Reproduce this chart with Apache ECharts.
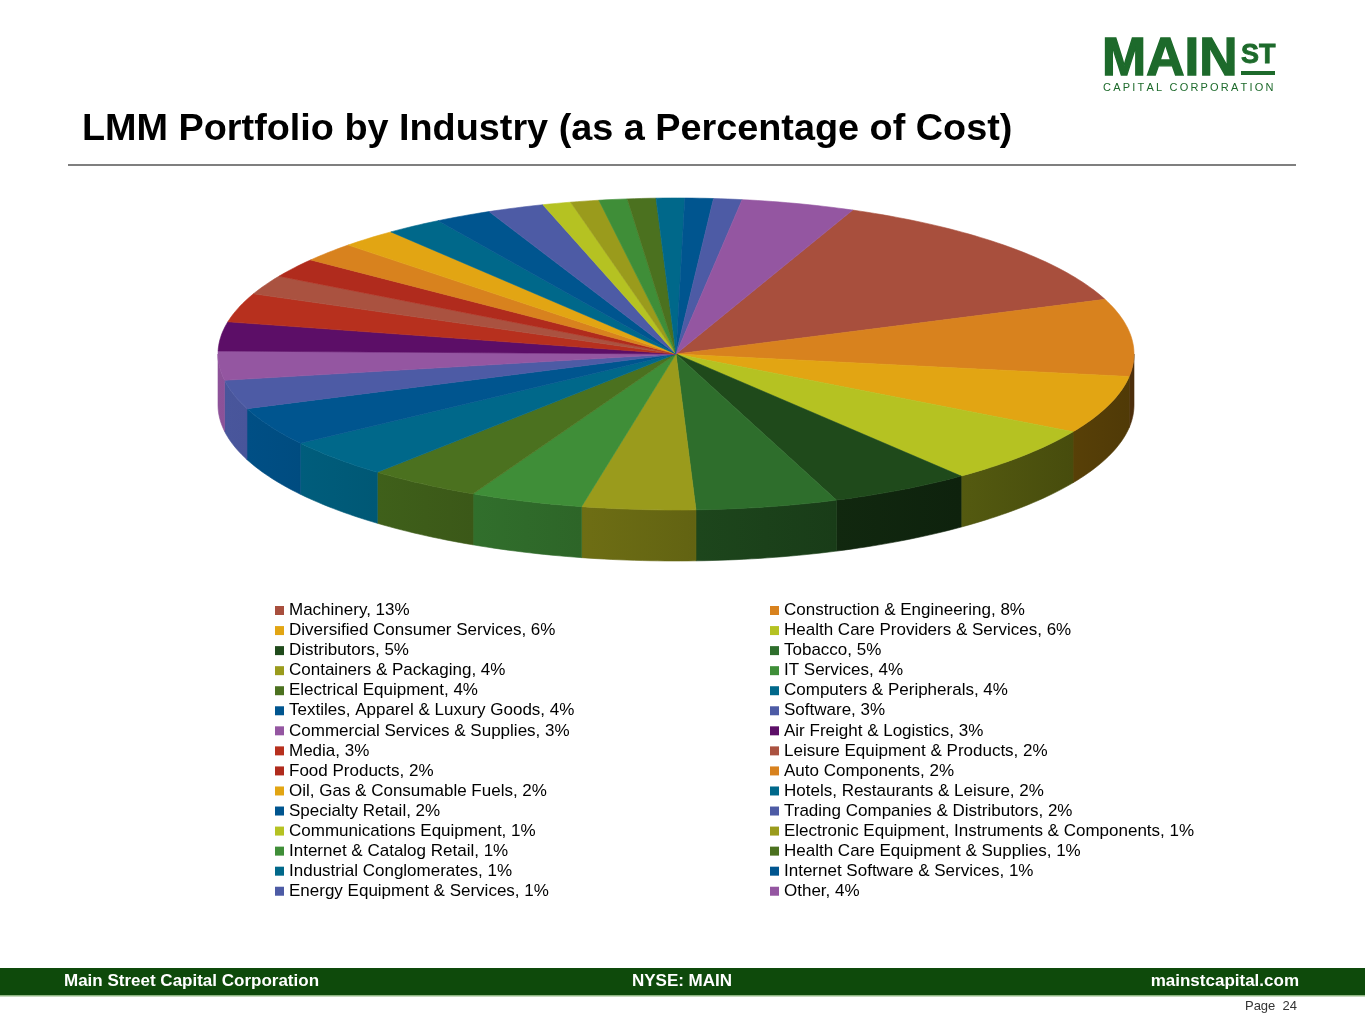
<!DOCTYPE html>
<html>
<head>
<meta charset="utf-8">
<title>LMM Portfolio by Industry</title>
<script src="https://cdn.jsdelivr.net/npm/echarts@6/dist/echarts.min.js"></script>
<style>
html, body { margin: 0; padding: 0; background: #fff; }
#main { width: 1365px; height: 1024px; }
</style>
</head>
<body>
<div id="main"></div>
<script>
// industries in slice order (clockwise from the top), percentage of cost
var industries = [
    'Machinery', 'Construction & Engineering',
    'Diversified Consumer Services', 'Health Care Providers & Services',
    'Distributors', 'Tobacco',
    'Containers & Packaging', 'IT Services',
    'Electrical Equipment', 'Computers & Peripherals',
    'Textiles, Apparel & Luxury Goods', 'Software',
    'Commercial Services & Supplies', 'Air Freight & Logistics',
    'Media', 'Leisure Equipment & Products',
    'Food Products', 'Auto Components',
    'Oil, Gas & Consumable Fuels', 'Hotels, Restaurants & Leisure',
    'Specialty Retail', 'Trading Companies & Distributors',
    'Communications Equipment', 'Electronic Equipment, Instruments & Components',
    'Internet & Catalog Retail', 'Health Care Equipment & Supplies',
    'Industrial Conglomerates', 'Internet Software & Services',
    'Energy Equipment & Services', 'Other'
];
var costShare = [
    13, 8, 6, 6, 5, 5, 4, 4, 4, 4,
    4, 3, 3, 3, 3, 2, 2, 2, 2, 2,
    2, 2, 1, 1, 1, 1, 1, 1, 1, 4
];
var sliceColors = [
    '#A84F3D', '#D8821E', '#E2A513', '#B5C222', '#1F4A1B',
    '#2E6E2C', '#9A9B1C', '#3F8E38', '#4B711F', '#00688A',
    '#00558F', '#4D5BA5', '#9456A1', '#5C0E67', '#B7301E',
    '#AA5240', '#B02B1D', '#D8821E', '#E2A513', '#00688A',
    '#00558F', '#4D5BA5', '#B5C222', '#9A9B1C', '#3F8E38',
    '#4B711F', '#00688A', '#00558F', '#4D5BA5', '#9456A1'
];

var chart = echarts.init(document.getElementById('main'));

// tilted pie geometry
var cx = 676, cy = 354, rx = 458, ry = 156, depth = 51;
var startAngle = 67.3;

var total = costShare.reduce(function (s, v) { return s + v; }, 0);
var sliceAngles = [];
var acc = startAngle;
costShare.forEach(function (v) {
    var a0 = acc;
    acc -= v / total * 360;
    sliceAngles.push([a0, acc]);
});

function rim(t, dz) {
    var r = t * Math.PI / 180;
    return [cx + rx * Math.cos(r), cy - ry * Math.sin(r) + dz];
}

function shade(hex, k) {
    var n = parseInt(hex.slice(1), 16);
    var r = Math.round(((n >> 16) & 255) * k);
    var g = Math.round(((n >> 8) & 255) * k);
    var b = Math.round((n & 255) * k);
    return 'rgb(' + r + ',' + g + ',' + b + ')';
}

// side is lit from the left
function light(t) {
    return 0.65 - 0.3 * Math.cos(t * Math.PI / 180);
}

function renderSlice(params, api) {
    var i = params.dataIndex;
    var a0 = sliceAngles[i][0], a1 = sliceAngles[i][1];
    var color = sliceColors[i];
    var children = [];

    // outer wall, only the front half shows
    var s0 = Math.min(a0, 0), s1 = Math.max(a1, -180);
    if (s0 > s1) {
        var side = [];
        var n = Math.max(2, Math.ceil(s0 - s1));
        var k;
        for (k = 0; k <= n; k++) side.push(rim(s0 - (s0 - s1) * k / n, 0));
        for (k = n; k >= 0; k--) side.push(rim(s0 - (s0 - s1) * k / n, depth));
        children.push({
            type: 'polygon',
            shape: { points: side },
            style: {
                fill: new echarts.graphic.LinearGradient(0, 0, 1, 0, [
                    { offset: 0, color: shade(color, light(s1)) },
                    { offset: 1, color: shade(color, light(s0)) }
                ]),
                stroke: shade(color, light((s0 + s1) / 2)),
                lineWidth: 0.6
            }
        });
    }

    // top face
    var top = [[cx, cy]];
    var m = Math.max(2, Math.ceil(a0 - a1));
    for (var j = 0; j <= m; j++) top.push(rim(a0 - (a0 - a1) * j / m, 0));
    children.push({
        type: 'polygon',
        shape: { points: top },
        style: { fill: color, stroke: color, lineWidth: 0.6 }
    });

    return { type: 'group', children: children };
}

var valueByName = {};
industries.forEach(function (n, i) { valueByName[n] = costShare[i]; });

var legendBase = {
    orient: 'vertical',
    top: 600.5,
    padding: 0,
    itemGap: 0,
    itemWidth: 9,
    itemHeight: 9,
    icon: 'rect',
    selectedMode: false,
    textStyle: {
        fontFamily: '"Liberation Sans", Arial, sans-serif',
        fontSize: 17,
        lineHeight: 20.05,
        color: '#000'
    },
    formatter: function (name) {
        return name + ', ' + valueByName[name] + '%';
    }
};

var uiFont = '"Liberation Sans", Arial, sans-serif';

option = {
    animation: false,
    legend: [
        Object.assign({}, legendBase, {
            left: 275,
            data: industries.filter(function (n, i) { return i % 2 === 0; })
        }),
        Object.assign({}, legendBase, {
            left: 770,
            data: industries.filter(function (n, i) { return i % 2 === 1; })
        })
    ],
    graphic: [
        {
            type: 'text', x: 82, y: 130,
            style: {
                text: 'LMM Portfolio by Industry (as a Percentage of Cost)',
                font: 'bold 37.8px ' + uiFont, fill: '#000',
                verticalAlign: 'middle', textVerticalAlign: 'middle'
            }
        },
        {
            type: 'rect',
            shape: { x: 68, y: 164, width: 1228, height: 2 },
            style: { fill: '#7f7f7f' }
        },
        // logo
        {
            type: 'text', x: 1102, y: 60,
            style: {
                text: 'MAIN', font: 'bold 53px ' + uiFont,
                fill: '#1d6a2b', stroke: '#1d6a2b', lineWidth: 1.4,
                verticalAlign: 'middle', textVerticalAlign: 'middle'
            }
        },
        {
            type: 'text', x: 1241, y: 56,
            style: {
                text: 'ST', font: 'bold 27px ' + uiFont,
                fill: '#1d6a2b', stroke: '#1d6a2b', lineWidth: 0.8,
                verticalAlign: 'middle', textVerticalAlign: 'middle'
            }
        },
        {
            type: 'rect',
            shape: { x: 1241, y: 71, width: 34, height: 4 },
            style: { fill: '#1d6a2b' }
        },
        {
            type: 'text', x: 1103, y: 88,
            style: {
                text: 'C\u2009A\u2009P\u2009I\u2009T\u2009A\u2009L\u2009 \u2009C\u2009O\u2009R\u2009P\u2009O\u2009R\u2009A\u2009T\u2009I\u2009O\u2009N',
                font: '11px ' + uiFont, fill: '#1d6a2b',
                verticalAlign: 'middle', textVerticalAlign: 'middle'
            }
        },
        // footer
        {
            type: 'rect',
            shape: { x: 0, y: 968, width: 1365, height: 27 },
            style: { fill: '#0e4a0b' }
        },
        {
            type: 'rect',
            shape: { x: 0, y: 995, width: 1365, height: 1.5 },
            style: { fill: '#8fb583' }
        },
        {
            type: 'text', x: 64, y: 981,
            style: {
                text: 'Main Street Capital Corporation', font: 'bold 17px ' + uiFont,
                fill: '#fff', verticalAlign: 'middle', textVerticalAlign: 'middle'
            }
        },
        {
            type: 'text', x: 682, y: 981,
            style: {
                text: 'NYSE: MAIN', font: 'bold 17px ' + uiFont, fill: '#fff',
                align: 'center', textAlign: 'center',
                verticalAlign: 'middle', textVerticalAlign: 'middle'
            }
        },
        {
            type: 'text', x: 1299, y: 981,
            style: {
                text: 'mainstcapital.com', font: 'bold 17px ' + uiFont, fill: '#fff',
                align: 'right', textAlign: 'right',
                verticalAlign: 'middle', textVerticalAlign: 'middle'
            }
        },
        {
            type: 'text', x: 1297, y: 1006,
            style: {
                text: 'Page  24', font: '13px ' + uiFont, fill: '#333',
                align: 'right', textAlign: 'right',
                verticalAlign: 'middle', textVerticalAlign: 'middle'
            }
        }
    ],
    series: [
        {
            name: 'LMM Portfolio',
            type: 'custom',
            coordinateSystem: 'none',
            silent: true,
            renderItem: renderSlice,
            data: industries.map(function (n, i) {
                return { name: n, value: costShare[i] };
            })
        },
        {
            // feeds the legend only, kept off screen
            name: 'legendSource',
            type: 'pie',
            silent: true,
            center: [-300, -300],
            radius: [0, 1],
            label: { show: false },
            labelLine: { show: false },
            data: industries.map(function (n, i) {
                return { name: n, value: costShare[i], itemStyle: { color: sliceColors[i] } };
            })
        }
    ]
};

chart.setOption(option);
</script>
</body>
</html>
